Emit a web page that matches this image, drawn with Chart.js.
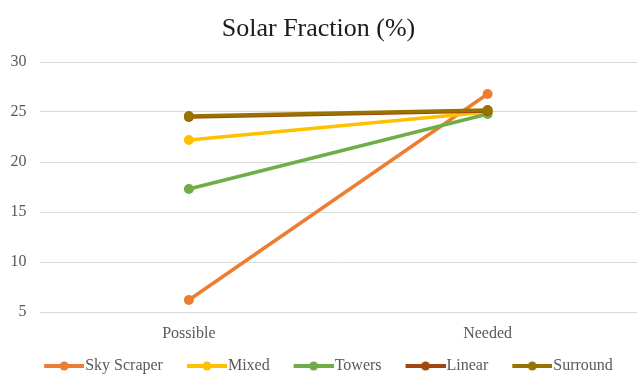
<!DOCTYPE html>
<html>
<head>
<meta charset="utf-8">
<title>Solar Fraction (%)</title>
<script src="https://cdn.jsdelivr.net/npm/chart.js@4.4.0/dist/chart.umd.min.js"></script>
<style>
  html, body { margin: 0; padding: 0; background: #ffffff; }
  #wrap { width: 637px; height: 378px; }
</style>
</head>
<body>
<div id="wrap"><canvas id="chart" width="637" height="378"></canvas></div>
<script>
// Categories and series values
const categories = ['Possible', 'Needed'];
const skyScraper = [6.2, 26.8];
const mixed = [22.2, 25.0];
const towers = [17.3, 24.8];
const linear = [24.5, 25.1];
const surround = [24.6, 25.2];
const seriesNames = ['Sky Scraper', 'Mixed', 'Towers', 'Linear', 'Surround'];
const yTicks = [5, 10, 15, 20, 25, 30];

const seriesValues = [skyScraper, mixed, towers, linear, surround];
const seriesColors = ['#ED7D31', '#FFC000', '#70AD47', '#9E480E', '#997300'];

const FONT = '"Liberation Serif", "Times New Roman", serif';
const LEGEND_PAD = 4;
const LEGEND_BOX = 57 - LEGEND_PAD;

// Legend marker: a short line with a dot, sitting at the right of a transparent strip
function legendMarker(color) {
  const c = document.createElement('canvas');
  c.width = LEGEND_BOX + 14;
  c.height = 12;
  const g = c.getContext('2d');
  const x1 = c.width, x0 = c.width - 40, cy = 6;
  g.strokeStyle = color;
  g.lineWidth = 4;
  g.lineCap = 'butt';
  g.beginPath();
  g.moveTo(x0, cy);
  g.lineTo(x1, cy);
  g.stroke();
  g.fillStyle = color;
  g.beginPath();
  g.arc((x0 + x1) / 2, cy, 4.5, 0, Math.PI * 2);
  g.fill();
  return c;
}
const markers = seriesColors.map(legendMarker);

const datasets = seriesNames.map((name, i) => ({
  label: name,
  data: seriesValues[i],
  borderColor: seriesColors[i],
  backgroundColor: seriesColors[i],
  pointBackgroundColor: seriesColors[i],
  pointBorderColor: seriesColors[i],
  borderWidth: 3.5,
  pointRadius: 5,
  pointBorderWidth: 0,
  pointHoverRadius: 5,
  tension: 0,
  fill: false,
  // later series are painted over earlier ones
  order: seriesNames.length - i
}));

new Chart(document.getElementById('chart'), {
  type: 'line',
  data: { labels: categories, datasets: datasets },
  options: {
    responsive: false,
    animation: false,
    layout: { autoPadding: false, padding: { left: 0, right: 0, top: 0, bottom: -6 } },
    plugins: {
      title: {
        display: true,
        text: 'Solar Fraction (%)',
        color: '#1a1a1a',
        font: { family: FONT, size: 26, weight: 'normal' },
        padding: { top: 13.4, bottom: 17.4 }
      },
      legend: {
        position: 'bottom',
        labels: {
          font: { family: FONT, size: 16 },
          color: '#595959',
          usePointStyle: true,
          pointStyleWidth: LEGEND_BOX,
          padding: LEGEND_PAD,
          generateLabels(chart) {
            const items = Chart.defaults.plugins.legend.labels.generateLabels(chart);
            items.sort((a, b) => a.datasetIndex - b.datasetIndex);
            items.forEach(it => { it.pointStyle = markers[it.datasetIndex]; });
            return items;
          }
        }
      },
      tooltip: { enabled: false }
    },
    scales: {
      x: {
        offset: true,
        grid: { display: false, drawTicks: false },
        border: { display: false },
        ticks: {
          color: '#595959',
          font: { family: FONT, size: 16 },
          padding: 12
        },
        afterFit(scale) { scale.height = 42; }
      },
      y: {
        min: yTicks[0],
        max: yTicks[yTicks.length - 1],
        grid: { color: '#D9D9D9', lineWidth: 1, drawTicks: false },
        border: { display: false },
        afterBuildTicks(scale) { scale.ticks = yTicks.map(v => ({ value: v })); },
        ticks: {
          color: '#595959',
          font: { family: FONT, size: 16 },
          padding: 13
        },
        afterFit(scale) { scale.width = 39.5; }
      }
    }
  }
});
</script>
</body>
</html>
